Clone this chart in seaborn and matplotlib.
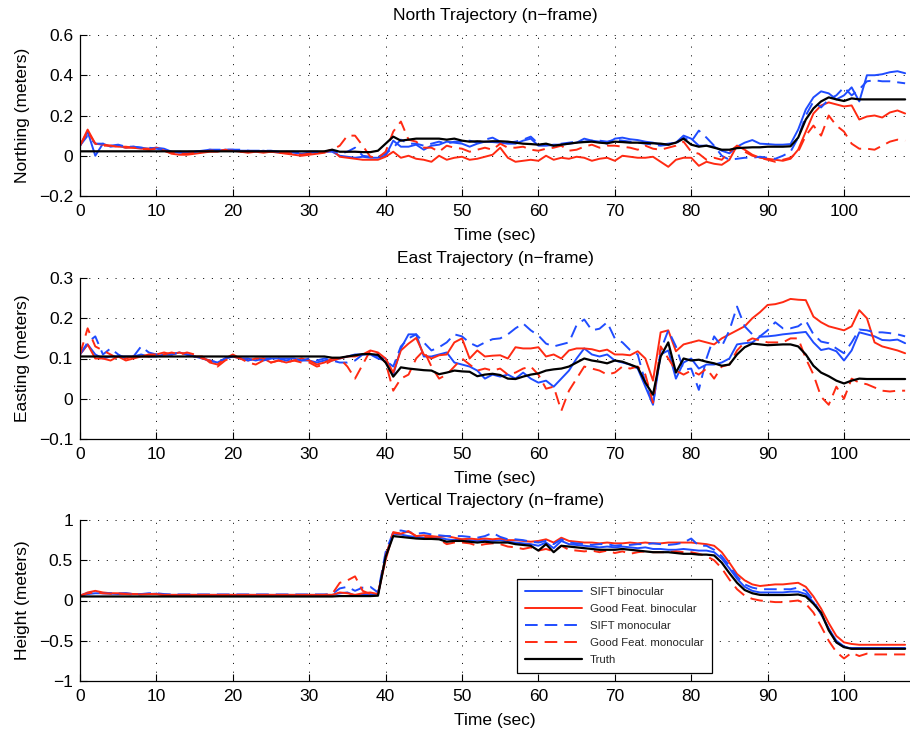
import numpy as np
import pandas as pd
import matplotlib
matplotlib.use("Agg")
import matplotlib.pyplot as plt
import seaborn as sns

# Sample times (s)
time_s = np.arange(0, 109)

# ---------------- North (Northing, m) ----------------
truth_n = [
    0.022, 0.022, 0.022, 0.022, 0.022, 0.022, 0.022, 0.022, 0.022, 0.022,
    0.022, 0.022, 0.022, 0.022, 0.022, 0.022, 0.022, 0.022, 0.022, 0.022,
    0.022, 0.022, 0.022, 0.022, 0.022, 0.022, 0.022, 0.022, 0.022, 0.022,
    0.022, 0.022, 0.022, 0.030, 0.020, 0.020, 0.020, 0.018, 0.018, 0.025,
    0.060, 0.095, 0.075, 0.080, 0.085, 0.085, 0.085, 0.085, 0.080, 0.085,
    0.075, 0.070, 0.072, 0.070, 0.072, 0.072, 0.070, 0.065, 0.060, 0.058,
    0.055, 0.060, 0.050, 0.055, 0.060, 0.065, 0.068, 0.070, 0.065, 0.062,
    0.070, 0.068, 0.065, 0.065, 0.063, 0.062, 0.060, 0.055, 0.065, 0.085,
    0.055, 0.045, 0.050, 0.040, 0.030, 0.030, 0.038, 0.040, 0.042, 0.042,
    0.045, 0.045, 0.045, 0.047, 0.090, 0.180, 0.235, 0.270, 0.290, 0.280,
    0.272, 0.285, 0.280, 0.280, 0.280, 0.280, 0.280, 0.280, 0.280]
sift_bino_n = [
    0.05, 0.12, 0.00, 0.06, 0.045, 0.05, 0.04, 0.045, 0.04, 0.035,
    0.04, 0.035, 0.02, 0.015, 0.015, 0.02, 0.025, 0.03, 0.025, 0.03,
    0.03, 0.025, 0.025, 0.02, 0.025, 0.02, 0.02, 0.02, 0.015, 0.01,
    0.015, 0.015, 0.02, 0.02, 0.0, -0.005, -0.01, -0.005, -0.01, -0.01,
    0.0, 0.075, 0.045, 0.045, 0.055, 0.03, 0.05, 0.055, 0.07, 0.065,
    0.06, 0.045, 0.06, 0.07, 0.068, 0.065, 0.06, 0.06, 0.075, 0.085,
    0.05, 0.05, 0.055, 0.055, 0.06, 0.065, 0.085, 0.075, 0.07, 0.06,
    0.085, 0.09, 0.082, 0.078, 0.07, 0.065, 0.055, 0.06, 0.065, 0.1,
    0.085, 0.05, 0.05, 0.045, 0.025, 0.012, 0.045, 0.065, 0.078, 0.06,
    0.058, 0.055, 0.055, 0.058, 0.13, 0.23, 0.29, 0.32, 0.31, 0.28,
    0.3, 0.34, 0.27, 0.4, 0.4, 0.405, 0.415, 0.42, 0.41]
sift_mono_n = [
    0.05, 0.1, 0.06, 0.06, 0.05, 0.055, 0.045, 0.045, 0.04, 0.04,
    0.035, 0.03, 0.02, 0.02, 0.02, 0.02, 0.025, 0.03, 0.03, 0.03,
    0.03, 0.03, 0.025, 0.025, 0.025, 0.025, 0.02, 0.02, 0.02, 0.015,
    0.02, 0.02, 0.02, 0.025, 0.01, 0.02, 0.04, 0.0, -0.005, -0.005,
    0.01, 0.04, 0.08, 0.06, 0.06, 0.05, 0.06, 0.07, 0.06, 0.07,
    0.07, 0.075, 0.065, 0.08, 0.09, 0.07, 0.065, 0.07, 0.08, 0.095,
    0.06, 0.055, 0.05, 0.06, 0.065, 0.07, 0.07, 0.075, 0.075, 0.07,
    0.08, 0.075, 0.07, 0.065, 0.06, 0.055, 0.05, 0.055, 0.06, 0.09,
    0.07, 0.125, 0.09, 0.05, 0.0, -0.02, -0.015, -0.01, -0.01, -0.005,
    -0.01, -0.015, 0.0, 0.02, 0.09, 0.2, 0.27, 0.24, 0.28, 0.3,
    0.34, 0.3, 0.33, 0.37, 0.375, 0.37, 0.37, 0.365, 0.36]
gf_bino_n = [
    0.05, 0.13, 0.06, 0.055, 0.05, 0.045, 0.045, 0.04, 0.035, 0.035,
    0.04, 0.025, 0.01, 0.005, 0.005, 0.01, 0.015, 0.02, 0.02, 0.03,
    0.025, 0.02, 0.015, 0.02, 0.015, 0.02, 0.015, 0.01, 0.005, 0.0,
    0.005, 0.01, 0.015, 0.03, -0.005, -0.01, -0.015, -0.02, -0.02, -0.02,
    -0.005, 0.02, -0.01, 0.0, -0.015, -0.02, -0.03, 0.0, -0.02, -0.01,
    -0.005, -0.02, -0.015, -0.005, 0.005, 0.04, -0.01, -0.03, -0.025, -0.02,
    -0.025, 0.0, -0.02, -0.01, -0.015, -0.005, -0.01, -0.025, -0.015, -0.01,
    -0.025, 0.0, -0.005, -0.01, -0.01, -0.005, -0.03, -0.055, -0.02, -0.01,
    -0.01, -0.05, -0.03, -0.04, -0.045, -0.02, 0.05, 0.03, 0.005, -0.01,
    -0.015, -0.02, -0.025, -0.015, 0.03, 0.12, 0.21, 0.25, 0.265, 0.255,
    0.245, 0.25, 0.18, 0.195, 0.2, 0.19, 0.215, 0.225, 0.21]
gf_mono_n = [
    0.05, 0.12, 0.06, 0.05, 0.05, 0.045, 0.04, 0.04, 0.035, 0.03,
    0.035, 0.025, 0.015, 0.01, 0.01, 0.015, 0.02, 0.025, 0.025, 0.025,
    0.025, 0.02, 0.02, 0.02, 0.02, 0.02, 0.015, 0.015, 0.01, 0.005,
    0.01, 0.015, 0.02, 0.03, 0.05, 0.1, 0.1, 0.05, -0.005, -0.01,
    0.02, 0.12, 0.17, 0.08, 0.07, 0.04, 0.04, 0.02, 0.05, 0.04,
    0.035, 0.02, 0.03, 0.04, 0.03, 0.06, 0.04, 0.04, 0.045, 0.03,
    0.025, 0.035, 0.04, 0.05, 0.025, 0.03, 0.045, 0.055, 0.04, 0.05,
    0.05, 0.045, 0.04, 0.03, 0.05, 0.035, 0.03, 0.04, 0.05, 0.07,
    0.02, 0.01, -0.02, -0.01, -0.02, 0.02, 0.05, 0.02, 0.0, -0.01,
    -0.02, -0.03, -0.02, -0.01, 0.02, 0.1, 0.15, 0.1, 0.2, 0.15,
    0.12, 0.06, 0.035, 0.035, 0.03, 0.05, 0.07, 0.08, 0.075]

# ---------------- East (Easting, m) ----------------
truth_e = [
    0.105, 0.105, 0.105, 0.105, 0.105, 0.105, 0.105, 0.105, 0.105, 0.105,
    0.105, 0.105, 0.105, 0.105, 0.105, 0.105, 0.105, 0.105, 0.105, 0.105,
    0.105, 0.105, 0.105, 0.105, 0.105, 0.105, 0.105, 0.105, 0.105, 0.105,
    0.105, 0.105, 0.105, 0.102, 0.102, 0.105, 0.108, 0.111, 0.111, 0.109,
    0.090, 0.055, 0.078, 0.075, 0.073, 0.071, 0.070, 0.061, 0.065, 0.070,
    0.068, 0.067, 0.056, 0.060, 0.062, 0.059, 0.050, 0.049, 0.055, 0.060,
    0.063, 0.070, 0.073, 0.075, 0.080, 0.090, 0.100, 0.095, 0.092, 0.088,
    0.095, 0.092, 0.085, 0.078, 0.040, 0.010, 0.105, 0.140, 0.065, 0.100,
    0.095, 0.097, 0.092, 0.088, 0.082, 0.085, 0.110, 0.128, 0.137, 0.135,
    0.133, 0.134, 0.135, 0.135, 0.130, 0.110, 0.082, 0.065, 0.056, 0.045,
    0.038, 0.045, 0.050, 0.049, 0.049, 0.049, 0.049, 0.049, 0.049]
sift_bino_e = [
    0.11, 0.135, 0.11, 0.1, 0.105, 0.105, 0.105, 0.105, 0.11, 0.105,
    0.105, 0.11, 0.11, 0.115, 0.11, 0.105, 0.1, 0.095, 0.09, 0.1,
    0.105, 0.1, 0.1, 0.095, 0.1, 0.1, 0.1, 0.1, 0.1, 0.095,
    0.095, 0.09, 0.095, 0.095, 0.1, 0.105, 0.11, 0.11, 0.11, 0.105,
    0.1, 0.06, 0.125, 0.16, 0.16, 0.105, 0.105, 0.11, 0.115, 0.09,
    0.085, 0.08, 0.07, 0.05, 0.06, 0.055, 0.06, 0.05, 0.065, 0.05,
    0.04, 0.045, 0.03, 0.05, 0.07, 0.1, 0.125, 0.11, 0.105, 0.11,
    0.095, 0.09, 0.085, 0.075, 0.03, -0.015, 0.11, 0.12, 0.05, 0.09,
    0.1, 0.075, 0.085, 0.085, 0.09, 0.1, 0.135, 0.138, 0.14, 0.154,
    0.155, 0.157, 0.16, 0.162, 0.164, 0.166, 0.14, 0.121, 0.125, 0.118,
    0.095, 0.12, 0.165, 0.16, 0.155, 0.146, 0.145, 0.147, 0.138]
sift_mono_e = [
    0.11, 0.14, 0.155, 0.11, 0.125, 0.11, 0.1, 0.105, 0.13, 0.115,
    0.11, 0.11, 0.11, 0.115, 0.11, 0.105, 0.1, 0.095, 0.09, 0.1,
    0.105, 0.1, 0.095, 0.1, 0.095, 0.1, 0.1, 0.095, 0.1, 0.095,
    0.1, 0.095, 0.1, 0.095, 0.09, 0.09, 0.095, 0.11, 0.11, 0.1,
    0.095, 0.08, 0.13, 0.15, 0.16, 0.14, 0.12, 0.128, 0.14, 0.16,
    0.155, 0.139, 0.13, 0.14, 0.148, 0.15, 0.16, 0.175, 0.187, 0.17,
    0.157, 0.137, 0.13, 0.135, 0.14, 0.183, 0.197, 0.17, 0.174, 0.19,
    0.15, 0.14, 0.121, 0.11, 0.04, -0.015, 0.12, 0.17, 0.13, 0.072,
    0.075, 0.022, 0.1, 0.155, 0.13, 0.17, 0.229, 0.18, 0.16, 0.155,
    0.17, 0.19, 0.175, 0.175, 0.18, 0.194, 0.16, 0.142, 0.138, 0.125,
    0.113, 0.14, 0.172, 0.17, 0.165, 0.165, 0.163, 0.16, 0.155]
gf_bino_e = [
    0.11, 0.135, 0.1, 0.1, 0.095, 0.105, 0.095, 0.1, 0.105, 0.105,
    0.11, 0.115, 0.11, 0.115, 0.11, 0.105, 0.105, 0.09, 0.085, 0.1,
    0.11, 0.1, 0.095, 0.1, 0.1, 0.09, 0.095, 0.09, 0.095, 0.1,
    0.095, 0.085, 0.09, 0.1, 0.1, 0.105, 0.105, 0.11, 0.12, 0.115,
    0.1, 0.065, 0.12, 0.137, 0.151, 0.11, 0.1, 0.108, 0.11, 0.14,
    0.15, 0.1, 0.12, 0.105, 0.107, 0.108, 0.1, 0.128, 0.125, 0.125,
    0.128, 0.105, 0.11, 0.1, 0.12, 0.125, 0.125, 0.123, 0.118, 0.122,
    0.11, 0.11, 0.108, 0.118, 0.1, 0.045, 0.165, 0.17, 0.118, 0.135,
    0.14, 0.145, 0.14, 0.135, 0.15, 0.16, 0.17, 0.18, 0.2, 0.215,
    0.233, 0.235, 0.24, 0.248, 0.246, 0.245, 0.204, 0.19, 0.18, 0.175,
    0.17, 0.18, 0.22, 0.2, 0.14, 0.13, 0.125, 0.12, 0.113]
gf_mono_e = [
    0.11, 0.175, 0.13, 0.12, 0.11, 0.1, 0.1, 0.105, 0.105, 0.11,
    0.11, 0.11, 0.115, 0.11, 0.115, 0.11, 0.1, 0.095, 0.08, 0.095,
    0.105, 0.1, 0.09, 0.085, 0.095, 0.09, 0.095, 0.09, 0.095, 0.09,
    0.09, 0.08, 0.085, 0.095, 0.1, 0.08, 0.05, 0.085, 0.12, 0.11,
    0.09, 0.02, 0.05, 0.06, 0.1, 0.12, 0.08, 0.05, 0.06, 0.08,
    0.1, 0.085, 0.07, 0.075, 0.07, 0.075, 0.06, 0.065, 0.075, 0.08,
    0.06, 0.025, 0.03, -0.03, 0.02, 0.05, 0.08, 0.075, 0.07, 0.06,
    0.065, 0.08, 0.075, 0.08, 0.06, -0.01, 0.13, 0.1, 0.07, 0.06,
    0.07, 0.06, 0.075, 0.05, 0.08, 0.085, 0.12, 0.14, 0.15, 0.145,
    0.14, 0.14, 0.14, 0.15, 0.15, 0.1, 0.06, 0.005, -0.015, 0.03,
    0.0, 0.05, 0.04, 0.036, 0.028, 0.02, 0.018, 0.02, 0.02]

# ---------------- Vertical (Height, m) ----------------
truth_h = [
    0.05, 0.05, 0.05, 0.05, 0.05, 0.05, 0.05, 0.05, 0.05, 0.05,
    0.05, 0.05, 0.05, 0.05, 0.05, 0.05, 0.05, 0.05, 0.05, 0.05,
    0.05, 0.05, 0.05, 0.05, 0.05, 0.05, 0.05, 0.05, 0.05, 0.05,
    0.05, 0.05, 0.05, 0.05, 0.055, 0.055, 0.055, 0.055, 0.055, 0.06,
    0.54, 0.8, 0.79, 0.78, 0.77, 0.765, 0.765, 0.76, 0.73, 0.74,
    0.74, 0.73, 0.72, 0.73, 0.72, 0.72, 0.72, 0.7, 0.69, 0.68,
    0.62, 0.7, 0.6, 0.68, 0.67, 0.66, 0.65, 0.64, 0.63, 0.63,
    0.63, 0.64, 0.63, 0.62, 0.61, 0.6, 0.6, 0.6, 0.59, 0.58,
    0.58, 0.57, 0.57, 0.56, 0.47, 0.34, 0.22, 0.13, 0.09, 0.07,
    0.068, 0.068, 0.068, 0.07, 0.075, 0.05, -0.04, -0.15, -0.37, -0.52,
    -0.58, -0.6, -0.6, -0.6, -0.6, -0.6, -0.6, -0.6, -0.6]
sift_bino_h = [
    0.06, 0.08, 0.09, 0.09, 0.085, 0.08, 0.08, 0.08, 0.08, 0.08,
    0.085, 0.07, 0.07, 0.07, 0.07, 0.07, 0.07, 0.07, 0.07, 0.07,
    0.07, 0.07, 0.07, 0.07, 0.07, 0.07, 0.07, 0.07, 0.07, 0.07,
    0.07, 0.07, 0.07, 0.07, 0.09, 0.1, 0.06, 0.07, 0.08, 0.07,
    0.55, 0.83, 0.82, 0.8, 0.79, 0.78, 0.79, 0.78, 0.76, 0.75,
    0.76, 0.75, 0.74, 0.75, 0.74, 0.75, 0.73, 0.72, 0.71, 0.7,
    0.68, 0.72, 0.65, 0.74, 0.7, 0.69, 0.68, 0.67, 0.66, 0.67,
    0.66, 0.67, 0.66, 0.65, 0.66, 0.64, 0.64, 0.63, 0.63, 0.64,
    0.63, 0.62, 0.62, 0.6, 0.52, 0.4, 0.27, 0.17, 0.12, 0.1,
    0.1, 0.1, 0.1, 0.11, 0.11, 0.08, -0.02, -0.17, -0.35, -0.5,
    -0.57, -0.6, -0.59, -0.59, -0.59, -0.59, -0.59, -0.59, -0.59]
sift_mono_h = [
    0.06, 0.09, 0.1, 0.09, 0.09, 0.085, 0.09, 0.08, 0.08, 0.09,
    0.09, 0.08, 0.075, 0.075, 0.075, 0.075, 0.075, 0.075, 0.075, 0.075,
    0.075, 0.075, 0.075, 0.075, 0.075, 0.075, 0.075, 0.075, 0.075, 0.075,
    0.075, 0.075, 0.075, 0.08, 0.15, 0.17, 0.12, 0.16, 0.17, 0.1,
    0.6, 0.85, 0.87, 0.85, 0.83, 0.84, 0.82, 0.81, 0.8, 0.8,
    0.8, 0.79, 0.78, 0.8, 0.84, 0.79, 0.76, 0.76, 0.75, 0.73,
    0.72, 0.74, 0.7, 0.76, 0.72, 0.71, 0.7, 0.69, 0.7, 0.7,
    0.68, 0.69, 0.69, 0.7, 0.7, 0.71, 0.7, 0.69, 0.7, 0.72,
    0.77, 0.68, 0.68, 0.63, 0.55, 0.43, 0.3, 0.2, 0.16, 0.14,
    0.14, 0.14, 0.14, 0.14, 0.16, 0.12, 0.0, -0.17, -0.35, -0.52,
    -0.58, -0.59, -0.59, -0.59, -0.59, -0.59, -0.59, -0.59, -0.59]
gf_bino_h = [
    0.06, 0.1, 0.12, 0.1, 0.09, 0.09, 0.09, 0.08, 0.08, 0.08,
    0.08, 0.07, 0.07, 0.07, 0.07, 0.07, 0.07, 0.07, 0.07, 0.07,
    0.07, 0.07, 0.07, 0.07, 0.07, 0.07, 0.07, 0.07, 0.07, 0.07,
    0.07, 0.07, 0.07, 0.07, 0.1, 0.09, 0.07, 0.09, 0.1, 0.08,
    0.5, 0.84, 0.83, 0.86, 0.8, 0.81, 0.8, 0.79, 0.8, 0.78,
    0.76, 0.77, 0.76, 0.77, 0.76, 0.77, 0.75, 0.75, 0.74, 0.73,
    0.74, 0.76, 0.72, 0.78, 0.74, 0.73, 0.72, 0.72, 0.71, 0.72,
    0.71, 0.71, 0.72, 0.71, 0.72, 0.71, 0.71, 0.72, 0.72, 0.72,
    0.72, 0.71, 0.7, 0.68, 0.6, 0.47, 0.33, 0.25, 0.2, 0.18,
    0.19, 0.2, 0.2, 0.21, 0.22, 0.17, 0.05, -0.1, -0.28, -0.44,
    -0.52, -0.54, -0.55, -0.55, -0.55, -0.55, -0.55, -0.55, -0.55]
gf_mono_h = [
    0.06, 0.09, 0.1, 0.09, 0.085, 0.085, 0.08, 0.075, 0.075, 0.08,
    0.08, 0.07, 0.07, 0.07, 0.07, 0.07, 0.07, 0.07, 0.07, 0.07,
    0.07, 0.07, 0.07, 0.07, 0.07, 0.07, 0.07, 0.07, 0.07, 0.07,
    0.07, 0.07, 0.07, 0.08, 0.22, 0.25, 0.3, 0.12, 0.08, 0.08,
    0.55, 0.85, 0.83, 0.86, 0.8, 0.79, 0.78, 0.76, 0.7, 0.72,
    0.72, 0.71, 0.68, 0.7, 0.71, 0.7, 0.67, 0.66, 0.64, 0.66,
    0.62, 0.64, 0.61, 0.68, 0.63, 0.62, 0.61, 0.62, 0.6, 0.62,
    0.59, 0.61, 0.58, 0.6, 0.61, 0.6, 0.6, 0.6, 0.61, 0.6,
    0.6, 0.58, 0.55, 0.5, 0.4, 0.26, 0.14, 0.06, 0.02, 0.0,
    -0.01, -0.02, -0.02, -0.01, 0.0, -0.04, -0.15, -0.32, -0.5, -0.64,
    -0.72, -0.65, -0.69, -0.66, -0.67, -0.67, -0.67, -0.67, -0.67]

series_names = ["SIFT binocular", "Good Feat. binocular", "SIFT monocular",
                "Good Feat. monocular", "Truth"]

panel_titles = ["North Trajectory (n\u2212frame)", "East Trajectory (n\u2212frame)",
                "Vertical Trajectory (n\u2212frame)"]
panel_ylabels = ["Northing (meters)", "Easting (meters)", "Height (meters)"]
panel_series = [
    [sift_bino_n, gf_bino_n, sift_mono_n, gf_mono_n, truth_n],
    [sift_bino_e, gf_bino_e, sift_mono_e, gf_mono_e, truth_e],
    [sift_bino_h, gf_bino_h, sift_mono_h, gf_mono_h, truth_h],
]
panel_ylims = [(-0.2, 0.6), (-0.1, 0.3), (-1.0, 1.0)]
panel_yticks = [[-0.2, 0.0, 0.2, 0.4, 0.6], [-0.1, 0.0, 0.1, 0.2, 0.3],
                [-1.0, -0.5, 0.0, 0.5, 1.0]]
panel_yticklabels = [["\u22120.2", "0", "0.2", "0.4", "0.6"],
                     ["\u22120.1", "0", "0.1", "0.2", "0.3"],
                     ["\u22121", "\u22120.5", "0", "0.5", "1"]]
xticks = [0, 10, 20, 30, 40, 50, 60, 70, 80, 90, 100]
xtick_labels = ["0", "10", "20", "30", "40", "50", "60", "70", "80", "90", "100"]

BLUE = "#1f4cff"
RED = "#ff2a12"
style_color = [BLUE, RED, BLUE, RED, "black"]
DASH = (0, (6.5, 3.6))
style_ls = ["-", "-", DASH, DASH, "-"]
style_lw = [1.4, 1.4, 1.4, 1.4, 1.6]

sns.set_style("ticks")
plt.rcParams["font.family"] = ["Liberation Sans", "DejaVu Sans"]
plt.rcParams["axes.axisbelow"] = True

fig = plt.figure(figsize=(9.1, 7.34), dpi=100)
W, H = 910.0, 734.0
axes_px = [(35, 196), (278, 439), (520, 681)]  # top, bottom in pixels
x_left, x_right = 80.0, 910.0
px_per_sec = 7.64

for i, (top, bot) in enumerate(axes_px):
    ax = fig.add_axes([x_left / W, 1 - bot / H, (x_right - x_left) / W, (bot - top) / H])
    frame = pd.DataFrame({"t": time_s})
    for j, vals in enumerate(panel_series[i]):
        frame["v"] = vals
        sns.lineplot(data=frame, x="t", y="v", ax=ax, color=style_color[j],
                     linestyle=style_ls[j], linewidth=style_lw[j],
                     estimator=None, legend=False)
    ax.set_xlim(0, (x_right - x_left) / px_per_sec)
    ax.set_ylim(*panel_ylims[i])
    ax.set_xticks(xticks)
    ax.set_xticklabels(xtick_labels)
    ax.set_yticks(panel_yticks[i])
    ax.set_yticklabels(panel_yticklabels[i])
    ax.grid(True, color="black", linestyle=(0, (1.2, 8.5)), linewidth=0.65)
    for side in ["top", "right"]:
        ax.spines[side].set_visible(False)
    for side in ["left", "bottom"]:
        ax.spines[side].set_color("black")
        ax.spines[side].set_linewidth(0.9)
    ax.tick_params(axis="both", direction="in", length=5, width=0.8,
                   colors="black", labelsize=12.5, bottom=True, left=True)
    ax.tick_params(axis="x", pad=6)
    ax.tick_params(axis="y", pad=5)
    ax.set_title(panel_titles[i], fontsize=12.5, pad=11, color="black")
    ax.set_xlabel("Time (sec)", fontsize=12.5, labelpad=6, color="black")
    ax.set_ylabel(panel_ylabels[i], fontsize=12.5, labelpad=6, color="black")

    if i == 2:
        handles = ax.get_lines()[:5]
        leg = ax.legend(handles, series_names, loc="lower left",
                        bbox_to_anchor=(0.52, 0.012), fontsize=8.2,
                        handlelength=5.0, handletextpad=0.7, labelspacing=0.62,
                        borderpad=0.7, fancybox=False, framealpha=1,
                        edgecolor="black")
        leg.get_frame().set_linewidth(0.9)

fig.savefig("out.png", dpi=100)
